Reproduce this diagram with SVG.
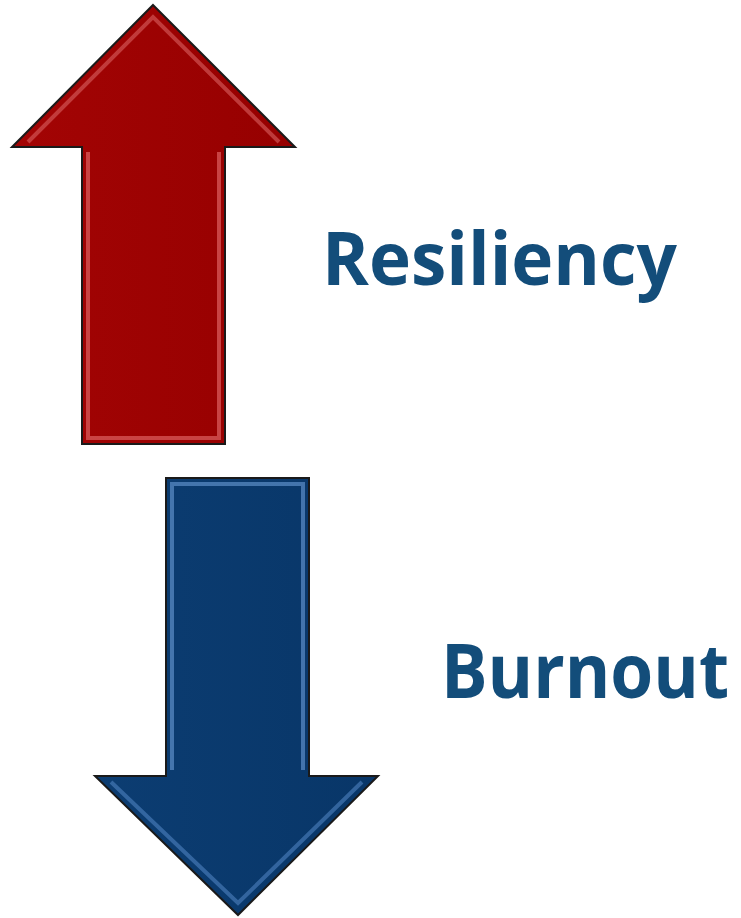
<svg xmlns="http://www.w3.org/2000/svg" width="741" height="918" viewBox="0 0 741 918">
<style>
.lbl{font-family:"Open Sans","Liberation Sans",sans-serif;font-weight:bold;fill:#134d7a}
.edge{fill:none;stroke:#1a1a1a;stroke-width:2;stroke-linejoin:miter}
</style>
<defs>
<linearGradient id="rg" x1="0" y1="0" x2="1" y2="0">
<stop offset="0" stop-color="#a30404"/><stop offset="1" stop-color="#960000"/>
</linearGradient>
<linearGradient id="bg" x1="0" y1="0" x2="1" y2="0">
<stop offset="0" stop-color="#0c3d72"/><stop offset="1" stop-color="#083668"/>
</linearGradient>
</defs>
<rect width="741" height="918" fill="#fff"/>
<g id="up-arrow">
<polygon points="153,5 295,147 225,147 225,444 82,444 82,147 12,147" fill="url(#rg)"/>
<polyline points="28,142 153,17 279,142" fill="none" stroke="#d86060" stroke-width="4" opacity="0.6"/>
<polyline points="88,152 88,438 219,438 219,152" fill="none" stroke="#e87070" stroke-width="4" opacity="0.6"/>
<polygon points="153,5 295,147 225,147 225,444 82,444 82,147 12,147" class="edge"/>
</g>
<g id="down-arrow">
<polygon points="166,478 309,478 309,776 378,776 238,915 95,776 166,776" fill="url(#bg)"/>
<polyline points="172,770 172,484 303,484 303,770" fill="none" stroke="#5d8ec8" stroke-width="4" opacity="0.7"/>
<polyline points="111,782 238,903 362,782" fill="none" stroke="#4f82c0" stroke-width="4" opacity="0.6"/>
<polygon points="166,478 309,478 309,776 378,776 238,915 95,776 166,776" class="edge"/>
</g>
<g id="resiliency">
<text class="lbl" x="322" y="285" font-size="73" textLength="355" lengthAdjust="spacingAndGlyphs">Resiliency</text>
</g>
<g id="burnout">
<text class="lbl" transform="translate(441,698) scale(1,1.09)" x="0" y="0" font-size="69" textLength="288" lengthAdjust="spacingAndGlyphs">Burnout</text>
</g>
</svg>
